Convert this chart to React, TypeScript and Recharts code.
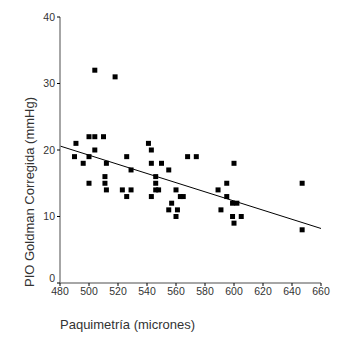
import { ScatterChart, Scatter, XAxis, YAxis, ReferenceLine } from 'recharts'

// paquimetría (micrones) vs PIO Goldman corregida (mmHg)
const paquimetria = [
  490, 491, 496, 500, 500, 500, 504, 504, 504, 510, 512, 511, 511, 512, 518,
  523, 526, 526, 529, 529, 541, 543, 543, 543, 546, 546, 546, 548, 550, 555,
  555, 557, 560, 560, 561, 563, 565, 568, 574, 589, 591, 595, 595, 599, 599,
  600, 600, 602, 605, 647, 647,
]
const pio = [
  19, 21, 18, 22, 19, 15, 32, 22, 20, 22, 18, 16, 15, 14, 31,
  14, 13, 19, 17, 14, 21, 20, 18, 13, 16, 15, 14, 14, 18, 17,
  11, 12, 14, 10, 11, 13, 13, 19, 19, 14, 11, 15, 13, 12, 10,
  18, 9, 12, 10, 15, 8,
]
const xTicks = [480, 500, 520, 540, 560, 580, 600, 620, 640, 660]
const yTicks = [0, 10, 20, 30, 40]
// recta de regresión
const fitX = [480, 660]
const fitY = [20.6, 8.2]

const data = paquimetria.map((x, i) => ({ x, y: pio[i] }))

const font = '"Liberation Sans", Arial, sans-serif'
const tickStyle = { fontSize: 10.5, fill: '#333', fontFamily: font }

const Square = (props: any) => {
  const { cx, cy } = props
  return <rect x={cx - 2.5} y={cy - 2.5} width={5} height={5} fill="#000" />
}

// the 0 label sits a little above the corner, like in the original
const YTick = (props: any) => {
  const { x, y, payload } = props
  const shift = payload.value === 0 ? -5 : 0
  return (
    <text x={x} y={y + shift} dy="0.355em" textAnchor="end" {...tickStyle}>
      {payload.value}
    </text>
  )
}

const App = () => {
  return (
    <div style={{ position: 'absolute', left: 0, top: 0 }}>
      <ScatterChart
        width={338}
        height={345}
        margin={{ top: 17, right: 17, bottom: 32, left: 0 }}
      >
        <XAxis
          type="number"
          dataKey="x"
          domain={[480, 660]}
          ticks={xTicks}
          tickSize={3}
          tickMargin={2}
          height={30}
          stroke="#888"
          tick={tickStyle}
          tickLine={{ stroke: '#000' }}
          axisLine={{ stroke: '#888', strokeWidth: 1.5 }}
          label={{
            value: 'Paquimetría (micrones)',
            position: 'insideBottomLeft',
            offset: 0,
            dy: 16,
            style: { fontSize: 13, fill: '#333', fontFamily: font, textAnchor: 'start' },
          }}
        />
        <YAxis
          type="number"
          dataKey="y"
          domain={[0, 40]}
          ticks={yTicks}
          tickSize={3}
          tickMargin={2}
          width={60}
          tick={<YTick />}
          tickLine={{ stroke: '#000' }}
          axisLine={{ stroke: '#888', strokeWidth: 1.5 }}
          label={{
            value: 'PIO Goldman Corregida (mmHg)',
            angle: -90,
            position: 'insideLeft',
            dx: 24,
            dy: 42,
            style: { fontSize: 13, fill: '#333', fontFamily: font, textAnchor: 'middle' },
          }}
        />
        <XAxis
          xAxisId="top"
          orientation="top"
          type="number"
          domain={[480, 660]}
          height={0}
          tick={false}
          tickLine={false}
          axisLine={{ stroke: '#000' }}
        />
        <YAxis
          yAxisId="right"
          orientation="right"
          type="number"
          domain={[0, 40]}
          width={0}
          tick={false}
          tickLine={false}
          axisLine={{ stroke: '#000' }}
        />
        <ReferenceLine
          segment={[
            { x: fitX[0], y: fitY[0] },
            { x: fitX[1], y: fitY[1] },
          ]}
          stroke="#000"
          strokeWidth={1}
        />
        <Scatter data={data} shape={Square} isAnimationActive={false} />
      </ScatterChart>
    </div>
  )
}

export default App
